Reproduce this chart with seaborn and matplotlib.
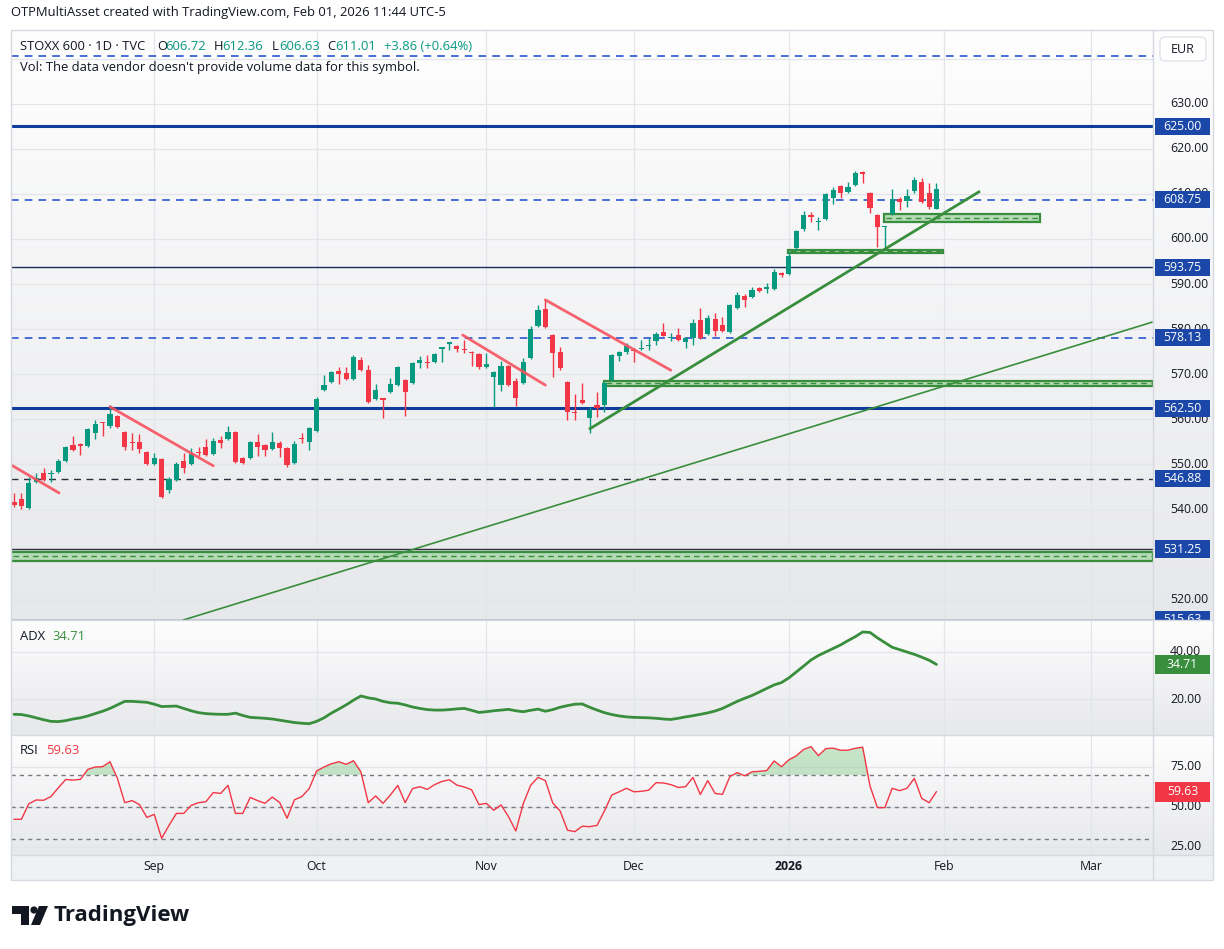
import numpy as np
import matplotlib
matplotlib.use("Agg")
import matplotlib.pyplot as plt
import seaborn as sns
import pandas as pd
from matplotlib.patches import Rectangle, FancyBboxPatch, Polygon, Circle
from matplotlib.colors import LinearSegmentedColormap

# ---------------- data ----------------
opens = [541.7, 542.4, 540.4, 546.1, 548.1, 547.8, 548.3, 550.8, 554.3, 554.4,
         554.1, 557.0, 559.3, 558.5, 560.8, 557.2, 554.9, 555.0, 552.8, 550.1,
         551.2, 544.4, 546.6, 550.8, 550.1, 552.7, 553.9, 552.3, 555.4, 555.7,
         557.2, 551.4, 551.4, 555.0, 554.3, 553.4, 554.8, 553.7, 550.3, 555.8,
         555.0, 557.4, 566.5, 568.3, 570.7, 570.3, 569.0, 573.2, 571.0, 564.5,
         564.6, 566.1, 567.6, 568.7, 568.1, 572.5, 572.6, 572.7, 575.7, 576.8,
         576.3, 575.5, 575.0, 574.5, 571.6, 569.4, 567.6, 571.8, 568.5, 568.1,
         573.6, 580.7, 584.5, 578.7, 574.9, 568.3, 561.7, 564.3, 560.3, 563.2,
         563.2, 568.7, 574.1, 574.9, 575.3, 575.5, 576.2, 577.4, 579.4, 578.0,
         578.7, 577.2, 578.1, 582.0, 578.9, 582.3, 580.9, 579.4, 584.7, 587.4,
         587.1, 589.1, 588.9, 588.9, 592.5, 592.2, 598.0, 602.2, 605.3, 603.7,
         604.4, 609.1, 611.8, 610.4, 612.0, 614.7, 610.2, 605.3, 602.6, 605.5,
         608.9, 608.4, 610.6, 612.6, 610.2, 606.72]
highs = [543.7, 543.7, 547.2, 548.1, 549.2, 548.8, 551.2, 554.1, 556.3, 554.8,
         558.1, 559.9, 559.4, 563.2, 561.0, 557.4, 557.0, 556.8, 553.0, 552.6,
         551.4, 547.2, 550.6, 552.6, 553.7, 553.9, 555.7, 555.9, 556.3, 558.5,
         557.4, 551.6, 555.2, 556.8, 554.5, 557.2, 555.2, 553.9, 555.2, 557.0,
         558.3, 565.0, 569.8, 570.7, 571.6, 571.6, 574.3, 573.8, 572.1, 567.9,
         564.7, 569.2, 571.8, 569.0, 572.7, 574.1, 574.3, 574.7, 576.1, 577.2,
         576.5, 577.6, 575.2, 574.7, 574.7, 570.7, 573.0, 572.0, 569.2, 573.6,
         580.7, 585.4, 586.5, 578.9, 576.1, 568.5, 565.6, 568.1, 562.8, 566.1,
         568.3, 574.5, 575.2, 577.0, 575.8, 577.6, 578.1, 579.4, 581.4, 579.2,
         580.3, 578.3, 582.3, 584.7, 583.2, 583.6, 582.7, 585.6, 588.2, 587.8,
         589.4, 589.3, 590.2, 593.3, 592.6, 597.1, 602.0, 606.2, 606.0, 604.9,
         610.2, 611.5, 612.0, 612.6, 615.1, 615.1, 610.4, 605.5, 602.9, 611.1,
         609.3, 611.1, 613.7, 613.5, 612.4, 612.36]
lows = [540.6, 540.1, 540.2, 545.9, 546.3, 546.1, 548.1, 550.6, 553.0, 552.1,
        553.9, 555.7, 556.3, 558.1, 558.1, 553.2, 553.2, 552.6, 549.9, 549.9,
        542.6, 543.7, 546.3, 548.1, 549.9, 551.9, 551.9, 552.1, 553.7, 555.5,
        550.4, 550.1, 551.2, 551.9, 551.9, 553.2, 551.7, 549.5, 550.1, 554.8,
        553.2, 557.2, 566.3, 568.1, 567.9, 568.8, 568.8, 570.8, 563.7, 564.3,
        560.3, 565.9, 567.4, 560.8, 567.9, 571.4, 571.4, 572.5, 572.7, 575.4,
        575.0, 574.7, 571.8, 571.2, 571.4, 562.8, 566.3, 567.4, 563.0, 567.9,
        573.4, 580.5, 580.3, 569.4, 571.0, 559.9, 559.9, 563.4, 557.0, 560.5,
        561.6, 568.5, 573.0, 574.5, 572.7, 575.4, 575.4, 576.5, 578.4, 577.4,
        577.4, 575.8, 576.5, 577.9, 578.7, 578.5, 579.4, 579.2, 584.5, 584.9,
        586.9, 588.3, 588.0, 588.7, 591.6, 592.0, 597.3, 601.8, 603.8, 602.0,
        604.2, 607.8, 609.1, 610.2, 611.8, 612.4, 605.8, 598.2, 597.6, 605.3,
        606.4, 607.1, 610.2, 608.0, 606.7, 606.63]
closes = [541.0, 540.8, 545.9, 547.0, 546.6, 548.0, 550.8, 553.9, 553.2, 554.2,
          557.9, 559.0, 559.1, 561.2, 558.3, 553.9, 554.7, 553.4, 550.1, 551.4,
          542.8, 546.8, 550.1, 549.2, 552.3, 552.5, 552.1, 555.2, 554.8, 557.2,
          550.6, 550.3, 555.0, 553.9, 553.2, 555.0, 553.7, 549.9, 554.6, 555.6,
          558.1, 564.5, 567.6, 570.5, 570.1, 569.0, 573.8, 571.0, 563.9, 566.5,
          564.4, 567.9, 571.6, 566.1, 572.5, 573.2, 572.4, 574.5, 575.9, 577.0,
          575.6, 575.3, 574.8, 571.6, 572.3, 570.5, 571.8, 567.6, 564.7, 572.7,
          580.0, 584.3, 580.5, 574.7, 571.4, 561.6, 561.5, 563.6, 562.1, 562.5,
          568.1, 574.3, 574.9, 576.3, 575.1, 575.7, 576.4, 578.9, 578.5, 578.2,
          577.6, 578.1, 581.4, 578.1, 582.5, 579.6, 579.6, 585.4, 587.6, 586.5,
          588.7, 588.5, 589.4, 592.7, 592.0, 596.2, 601.8, 605.3, 604.9, 603.9,
          610.0, 610.9, 610.2, 611.5, 614.6, 614.5, 606.9, 602.7, 602.8, 608.9,
          608.2, 609.5, 613.1, 608.2, 607.15, 611.01]
adx = [13.5, 13.4, 12.8, 12.0, 11.2, 10.5, 10.4, 10.8, 11.5, 12.0,
       12.8, 13.8, 14.8, 16.0, 17.5, 19.0, 19.0, 18.8, 18.6, 17.8,
       16.8, 16.9, 17.0, 16.0, 15.0, 14.2, 13.8, 13.6, 13.5, 13.5,
       14.0, 13.0, 12.2, 12.0, 11.8, 11.5, 11.0, 10.5, 10.0, 9.7,
       9.5, 10.5, 12.0, 14.0, 15.7, 17.5, 19.5, 21.3, 20.5, 20.0,
       19.0, 18.4, 18.2, 17.5, 16.6, 16.0, 15.5, 15.3, 15.3, 15.5,
       15.8, 16.0, 15.2, 14.3, 14.6, 15.0, 15.3, 15.6, 15.0, 14.6,
       15.2, 15.7, 14.8, 15.5, 16.5, 17.2, 17.8, 17.9, 16.5, 15.3,
       14.2, 13.4, 12.8, 12.4, 12.2, 12.1, 12.0, 11.8, 11.5, 11.3,
       11.8, 12.4, 12.9, 13.5, 14.1, 14.9, 16.0, 17.5, 19.0, 20.3,
       21.5, 23.0, 24.5, 26.0, 27.0, 29.0, 31.5, 34.0, 36.6, 38.5,
       40.0, 41.5, 43.0, 44.8, 46.5, 48.5, 48.3, 46.0, 44.0, 42.0,
       41.0, 40.0, 39.0, 37.8, 36.5, 34.71]
rsi = [42.3, 42.3, 52.0, 54.4, 54.2, 56.5, 62.0, 67.2, 66.8, 67.3,
       73.5, 75.0, 75.2, 78.3, 68.0, 52.7, 54.0, 51.5, 43.5, 45.4,
       30.4, 38.5, 46.0, 46.0, 51.0, 52.7, 53.3, 59.0, 58.5, 63.5,
       46.0, 46.0, 56.0, 54.0, 52.3, 56.2, 52.8, 43.0, 54.5, 56.5,
       61.5, 72.5, 75.0, 77.0, 78.3, 76.7, 78.9, 72.0, 52.7, 56.9,
       52.3, 57.5, 63.5, 52.7, 61.5, 62.7, 61.0, 64.0, 66.0, 67.0,
       63.7, 62.5, 60.8, 51.5, 52.3, 48.0, 51.3, 44.0, 35.0, 52.0,
       63.5, 68.5, 66.5, 52.5, 47.5, 35.5, 34.6, 38.0, 37.7, 38.5,
       47.5, 57.5, 59.5, 61.7, 59.5, 59.8, 60.5, 65.2, 65.0, 64.0,
       62.2, 62.7, 68.5, 57.8, 66.5, 58.5, 57.9, 69.0, 71.5, 69.5,
       72.0, 72.3, 72.8, 78.8, 75.2, 79.5, 82.0, 86.0, 87.7, 82.1,
       86.5, 86.8, 85.5, 85.5, 86.7, 87.4, 63.0, 49.6, 49.6, 61.7,
       60.2, 61.7, 67.9, 55.4, 52.7, 59.63]
month_labels = ["Sep", "Oct", "Nov", "Dec", "2026", "Feb", "Mar"]
month_pos = [19, 41, 64, 84, 105, 126, 146]
price_ticks = [520, 530, 540, 550, 560, 570, 580, 590, 600, 610, 620, 630]
level_values = [640.63, 625.00, 608.75, 593.75, 578.13, 562.50, 546.88, 531.25, 515.63]
level_styles = ["dash", "thick", "dash", "thin", "dash", "thick", "dashk", "think", "thin"]
# zones: (start bar, end bar, low, high)
zone_x0 = [117.9, 104.9, 79.9, -0.4]
zone_x1 = [139.0, 125.9, 154.4, 154.4]
zone_lo = [603.7, 597.0, 567.5, 528.6]
zone_hi = [605.5, 597.6, 568.5, 530.6]
# trend lines: (x0, p0, x1, p1, width)
green_lines = [(77.9, 557.8, 130.9, 610.6, 2.0), (22.9, 515.5, 154.3, 581.6, 1.2)]
red_lines = [(-0.4, 549.9, 6.1, 543.7), (13.0, 562.8, 27.0, 549.7),
             (60.8, 578.7, 72.0, 567.6), (72.0, 586.5, 89.0, 570.9)]
adx_last = "34.71"
rsi_last = "59.63"

# ---------------- setup ----------------
sns.set_style("white")
plt.rcParams['font.family'] = ['Open Sans', 'DejaVu Sans']
W, H = 1224, 949
fig = plt.figure(figsize=(W / 100, H / 100), dpi=100)
fig.patch.set_facecolor("white")

TXT = "#131722"
GREEN = "#089981"
RED = "#F23645"
BLUE = "#1A47A8"
GRID = "#E3E5EA"
XL = (-0.41, 154.34)
FS = 9.4


def rect(x0, y0, x1, y1):
    return [x0 / W, 1 - y1 / H, (x1 - x0) / W, (y1 - y0) / H]


def gradient(ax, top="#FEFEFE", bottom="#E7E8EB"):
    g = np.linspace(0, 1, 256).reshape(-1, 1)
    cmap = LinearSegmentedColormap.from_list("g", [top, bottom])
    ax.imshow(g, extent=[0, 1, 0, 1], transform=ax.transAxes, aspect="auto",
              cmap=cmap, zorder=-10, origin="upper", interpolation="bilinear")


def clean(ax):
    for s in ax.spines.values():
        s.set_visible(False)
    ax.set_xticks([])
    ax.set_yticks([])
    ax.set_xlabel("")
    ax.set_ylabel("")


idx = np.arange(len(closes))

# ---------------- main pane ----------------
ax = fig.add_axes(rect(11, 30, 1153, 620))
gradient(ax)
for p in price_ticks + [640]:
    ax.axhline(p, color=GRID, lw=0.9, zorder=0)
for m in month_pos:
    ax.axvline(m, color=GRID, lw=0.9, zorder=0)

# zones
for x0, x1, lo, hi in zip(zone_x0, zone_x1, zone_lo, zone_hi):
    ax.add_patch(Rectangle((x0, lo), x1 - x0, hi - lo, facecolor="#B5DAB6",
                           edgecolor="#388E3C", lw=1.6, zorder=2))
    ax.plot([x0 + 0.3, x1 - 0.3], [(lo + hi) / 2] * 2, color="#388E3C",
            lw=1.0, ls=(0, (4, 3)), zorder=2)

# level lines
for v, st in zip(level_values, level_styles):
    if st == "dash":
        ax.axhline(v, color="#1848CC", lw=1.1, ls=(0, (5, 4)), zorder=3)
    elif st == "thick":
        ax.axhline(v, color="#0D3C9A", lw=2.2, zorder=3)
    elif st == "thin":
        ax.axhline(v, color="#1A2A5C", lw=1.0, zorder=3)
    elif st == "dashk":
        ax.axhline(v, color="#2A2E39", lw=1.0, ls=(0, (5, 4)), zorder=3)
    else:
        ax.axhline(v, color="#2A2E39", lw=1.0, zorder=3)

# candles
for i, o, h, l, c in zip(idx, opens, highs, lows, closes):
    col = GREEN if c >= o else RED
    ax.vlines(i, l, h, color=col, lw=1.0, zorder=4)
    ax.bar(i, max(abs(c - o), 0.25), bottom=min(o, c), width=0.7,
           color=col, lw=0, zorder=5)

# trend lines
for x0, p0, x1, p1, lw in green_lines:
    ax.plot([x0, x1], [p0, p1], color="#388E3C", lw=lw, zorder=6,
            solid_capstyle="butt")
for x0, p0, x1, p1 in red_lines:
    ax.plot([x0, x1], [p0, p1], color="#F7525F", lw=2.0, zorder=6, alpha=0.9)

ax.set_xlim(*XL)
ax.set_ylim(515.52, 646.34)
clean(ax)

# main price column
cax = fig.add_axes(rect(1153, 30, 1213, 620))
gradient(cax)
cax.set_xlim(0, 1)
cax.set_ylim(515.52, 646.34)
clean(cax)
for p in price_ticks:
    cax.text(0.283, p, f"{p:.2f}", ha="left", va="center", fontsize=8.8,
             color=TXT, zorder=2, clip_on=True)
for v in level_values[1:]:
    cax.add_patch(Rectangle((0.03, v - 1.9), 0.92, 3.8, facecolor=BLUE,
                            edgecolor="none", zorder=3, clip_on=True))
    cax.text(0.49, v, f"{v:.2f}", ha="center", va="center", fontsize=8.8,
             color="white", zorder=4, clip_on=True)

# ---------------- ADX pane ----------------
ax2 = fig.add_axes(rect(11, 620, 1153, 735))
gradient(ax2)
for p in [20, 40]:
    ax2.axhline(p, color=GRID, lw=0.9, zorder=0)
for m in month_pos:
    ax2.axvline(m, color=GRID, lw=0.9, zorder=0)
sns.lineplot(x=idx, y=adx, ax=ax2, color="#388E3C", lw=2.0, zorder=3)
ax2.set_xlim(*XL)
ax2.set_ylim(4.7, 53.6)
clean(ax2)

cax2 = fig.add_axes(rect(1153, 620, 1213, 735))
gradient(cax2)
cax2.set_xlim(0, 1)
cax2.set_ylim(4.7, 53.6)
clean(cax2)
for p in [20, 40]:
    cax2.text(0.283, p, f"{p:.2f}", ha="left", va="center", fontsize=8.8,
              color=TXT, clip_on=True)
cax2.add_patch(Rectangle((0.03, adx[-1] - 4.2), 0.92, 8.4, facecolor="#388E3C",
                         edgecolor="none", zorder=3))
cax2.text(0.49, adx[-1], adx_last, ha="center", va="center", fontsize=8.8,
          color="white", zorder=4)

# ---------------- RSI pane ----------------
ax3 = fig.add_axes(rect(11, 735, 1153, 855))
gradient(ax3)
for p in [25, 50, 75]:
    ax3.axhline(p, color=GRID, lw=0.9, zorder=0)
for m in month_pos:
    ax3.axvline(m, color=GRID, lw=0.9, zorder=0)
for p in [70, 50, 30]:
    ax3.axhline(p, color="#787B86", lw=1.0, ls=(0, (3, 3)), zorder=1)
rsi_arr = np.array(rsi)
ax3.fill_between(idx, 70, rsi_arr, where=rsi_arr > 70, interpolate=True,
                 color="#66BB6A", alpha=0.35, lw=0, zorder=2)
sns.lineplot(x=idx, y=rsi, ax=ax3, color="#F23645", lw=1.0, zorder=3)
ax3.set_xlim(*XL)
ax3.set_ylim(20, 95)
clean(ax3)

cax3 = fig.add_axes(rect(1153, 735, 1213, 855))
gradient(cax3)
cax3.set_xlim(0, 1)
cax3.set_ylim(20, 95)
clean(cax3)
for p in [25, 50, 75]:
    cax3.text(0.283, p, f"{p:.2f}", ha="left", va="center", fontsize=8.8,
              color=TXT, clip_on=True)
cax3.add_patch(Rectangle((0.03, rsi[-1] - 6.2), 0.92, 12.4, facecolor=RED,
                         edgecolor="none", zorder=3))
cax3.text(0.49, rsi[-1], rsi_last, ha="center", va="center", fontsize=8.8,
          color="white", zorder=4)

# ---------------- time axis ----------------
tax = fig.add_axes(rect(11, 855, 1153, 880))
tax.set_facecolor("#F0F1F4")
tax.set_xlim(*XL)
tax.set_ylim(0, 1)
clean(tax)
for m, lab in zip(month_pos, month_labels):
    tax.text(m, 0.55, lab, ha="center", va="center", fontsize=8.8, color=TXT,
             fontweight="bold" if lab == "2026" else "normal")
tcol = fig.add_axes(rect(1153, 855, 1213, 880))
tcol.set_facecolor("#F0F1F4")
clean(tcol)

# ---------------- overlay ----------------
ov = fig.add_axes([0, 0, 1, 1])
ov.set_xlim(0, W)
ov.set_ylim(H, 0)
ov.axis("off")
ov.patch.set_alpha(0)

# frame & separators
ov.add_patch(Rectangle((11, 30), 1202, 850, fill=False, edgecolor="#D6D9E0", lw=1))
for y in [620, 735, 855]:
    ov.plot([11, 1213], [y, y], color="#D6D9E0", lw=1)
ov.plot([1153, 1153], [30, 880], color="#D6D9E0", lw=1)

ov.text(11, 12, "OTPMultiAsset created with TradingView.com, Feb 01, 2026 11:44 UTC-5",
        fontsize=FS, color=TXT, va="center", ha="left")
ov.text(20, 46, "STOXX 600 · 1D · TVC", fontsize=FS, color=TXT, va="center")
for xx, lab in [(157, "O"), (214, "H"), (272, "L"), (327, "C")]:
    ov.text(xx, 46, lab, fontsize=FS, color=TXT, va="center")
for xx, val in [(165, "606.72"), (222, "612.36"), (279, "606.63"), (335, "611.01"),
                (384, "+3.86 (+0.64%)")]:
    ov.text(xx, 46, val, fontsize=FS, color=GREEN, va="center")
ov.text(20, 67, "Vol: The data vendor doesn't provide volume data for this symbol.",
        fontsize=FS, color=TXT, va="center")

ov.text(20, 636, "ADX", fontsize=FS, color=TXT, va="center")
ov.text(52, 636, adx_last, fontsize=FS, color="#388E3C", va="center")
ov.text(20, 751, "RSI", fontsize=FS, color=TXT, va="center")
ov.text(46, 751, rsi_last, fontsize=FS, color=RED, va="center")

# EUR button
ov.add_patch(FancyBboxPatch((1160, 37), 46, 24, boxstyle="round,pad=0,rounding_size=5",
                            facecolor="white", edgecolor="#E0E3EB", lw=1, zorder=5))
ov.text(1183, 49, "EUR", fontsize=9, color=TXT, ha="center", va="center", zorder=6)

# TradingView logo
ov.add_patch(Polygon([(12, 906), (29, 906), (29, 925), (21, 925), (21, 914), (12, 914)],
                     closed=True, facecolor=TXT, edgecolor="none"))
ov.add_patch(Circle((34, 910), 3.6, facecolor=TXT, edgecolor="none"))
ov.add_patch(Polygon([(39, 906), (48, 906), (40, 925), (31, 925)],
                     closed=True, facecolor=TXT, edgecolor="none"))
ov.text(54, 915.5, "TradingView", fontsize=16, fontweight="bold", color=TXT,
        va="center", ha="left")

fig.savefig("out.png", dpi=100)
